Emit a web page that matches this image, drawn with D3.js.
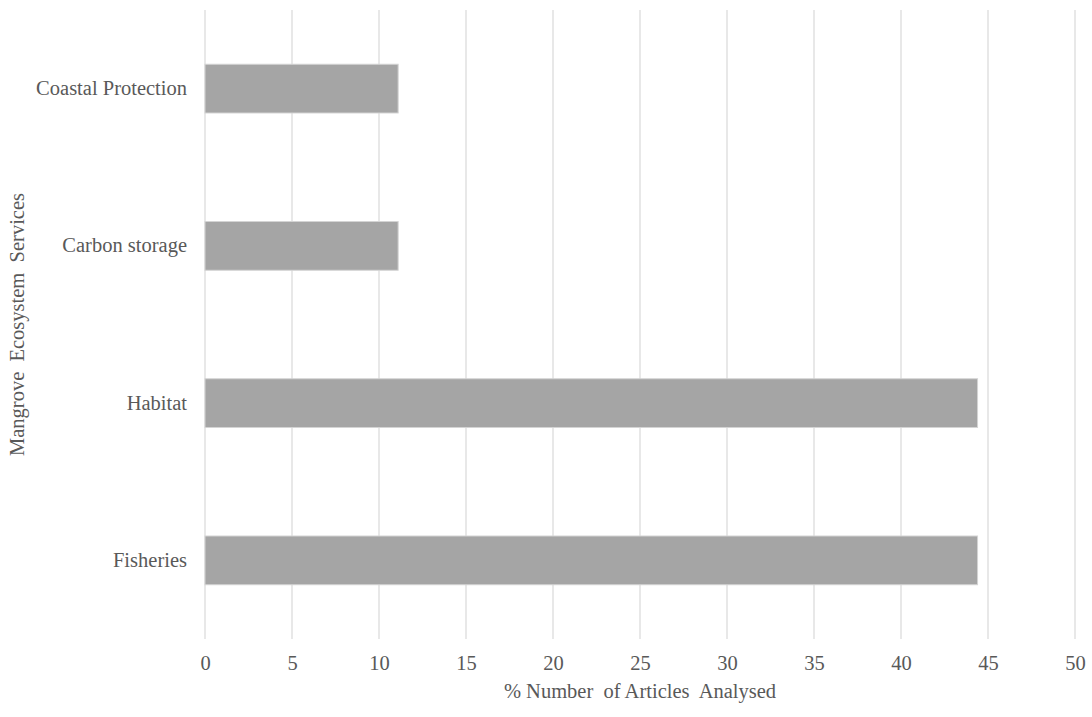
<!DOCTYPE html>
<html>
<head>
<meta charset="utf-8">
<script src="https://cdn.jsdelivr.net/npm/d3@7"></script>
<style>
  body { margin: 0; background: #fff; }
  svg text { font-family: "Times New Roman", "Liberation Serif", Times, serif !important; fill: #595959; }
</style>
</head>
<body>
<div id="chart"></div>
<script>
// Data
const categories = ["Coastal Protection", "Carbon storage", "Habitat", "Fisheries"];
const values = [11.1, 11.1, 44.4, 44.4];
const xTicks = [0, 5, 10, 15, 20, 25, 30, 35, 40, 45, 50];

const width = 1092;
const height = 717;
const margin = { top: 10, right: 17, bottom: 78, left: 205 };
const fontSize = 20.5;

const svg = d3.select('#chart')
  .append('svg')
  .attr('width', width)
  .attr('height', height);

const x = d3.scaleLinear()
  .domain([0, 50])
  .range([margin.left, width - margin.right]);

const y = d3.scaleBand()
  .domain(categories)
  .range([margin.top, height - margin.bottom])
  .paddingInner(0.69)
  .paddingOuter(0.345);

// Vertical gridlines
svg.append('g')
  .selectAll('line')
  .data(xTicks)
  .join('line')
  .attr('x1', d => x(d))
  .attr('x2', d => x(d))
  .attr('y1', margin.top)
  .attr('y2', height - margin.bottom)
  .attr('stroke', '#d9d9d9')
  .attr('stroke-width', 1.2);

// Bars
svg.append('g')
  .selectAll('rect')
  .data(categories)
  .join('rect')
  .attr('x', x(0))
  .attr('y', d => y(d))
  .attr('width', (d, i) => x(values[i]) - x(0))
  .attr('height', y.bandwidth())
  .attr('fill', '#a5a5a5')
  .attr('stroke', '#d4d4d4')
  .attr('stroke-width', 1);

// X tick labels
const xAxis = svg.append('g')
  .attr('transform', `translate(0,${height - margin.bottom})`)
  .call(d3.axisBottom(x).tickValues(xTicks).tickSize(0).tickPadding(16));
xAxis.attr('font-family', null).attr('font-size', fontSize);
xAxis.select('.domain').remove();
xAxis.selectAll('text').attr('fill', '#595959');

// Category labels
const yAxis = svg.append('g')
  .attr('transform', `translate(${margin.left},0)`)
  .call(d3.axisLeft(y).tickSize(0).tickPadding(18));
yAxis.attr('font-family', null).attr('font-size', fontSize);
yAxis.select('.domain').remove();
yAxis.selectAll('text').attr('fill', '#595959');

// Axis titles
svg.append('text')
  .attr('x', (margin.left + width - margin.right) / 2)
  .attr('y', 698)
  .attr('text-anchor', 'middle')
  .attr('font-size', fontSize)
  .style('white-space', 'pre')
  .text('% Number  of Articles  Analysed');

svg.append('text')
  .attr('transform', `translate(24,${(margin.top + height - margin.bottom) / 2}) rotate(-90)`)
  .attr('text-anchor', 'middle')
  .attr('font-size', fontSize)
  .style('white-space', 'pre')
  .text('Mangrove  Ecosystem  Services');
</script>
</body>
</html>
